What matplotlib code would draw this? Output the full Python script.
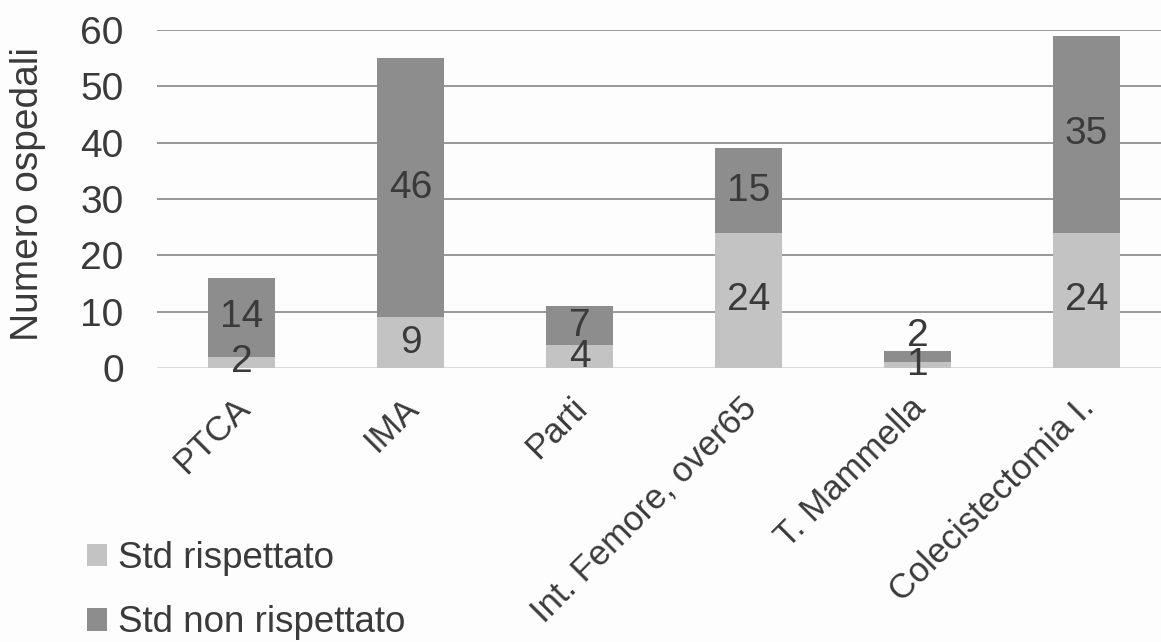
import matplotlib
matplotlib.use("Agg")
import matplotlib.pyplot as plt
import numpy as np

# Categories and counts of hospitals per procedure
categories = ["PTCA", "IMA", "Parti", "Int. Femore, over65", "T. Mammella", "Colecistectomia I."]
std_rispettato = [2, 9, 4, 24, 1, 24]
std_non_rispettato = [14, 46, 7, 15, 2, 35]
series_labels = ["Std rispettato", "Std non rispettato"]
y_ticks = [0, 10, 20, 30, 40, 50, 60]

light = "#c3c3c3"
dark = "#8d8d8d"
text_col = "#3a3a3a"
font = "Liberation Sans"

plt.rcParams["font.family"] = [font, "DejaVu Sans"]

W, H = 1161, 642
fig = plt.figure(figsize=(W / 100, H / 100), dpi=100)
fig.patch.set_facecolor("#fdfdfd")

ax_left, ax_right, ax_top, ax_bottom = 157, 1171, 30, 368
ax = fig.add_axes([ax_left / W, 1 - ax_bottom / H,
                   (ax_right - ax_left) / W, (ax_bottom - ax_top) / H])
ax.set_facecolor("none")

x = np.arange(len(categories))
width = 0.4
b1 = ax.bar(x, std_rispettato, width, color=light, label=series_labels[0], zorder=2)
b2 = ax.bar(x, std_non_rispettato, width, bottom=std_rispettato, color=dark,
            label=series_labels[1], zorder=2)

ax.set_xlim(-0.5, len(categories) - 0.5)
ax.set_ylim(0, 60)
ax.set_yticks(y_ticks)
ax.tick_params(axis="y", length=0, pad=24, labelsize=28, labelcolor=text_col)
ax.tick_params(axis="x", length=0)
ax.set_xticks(x)
ax.set_xticklabels([])
for s in ax.spines.values():
    s.set_visible(False)

ax.set_axisbelow(True)
ax.yaxis.grid(True, color="#7c7c7c", linewidth=1.1)
ax.get_ygridlines()[0].set_color("#d4d4d4")

# Rotated category labels
for xi, cat in zip(x, categories):
    ax.annotate(cat, xy=(xi, 0), xycoords="data", xytext=(2, -25),
                textcoords="offset points", rotation=45, rotation_mode="anchor",
                ha="right", va="center", fontsize=25, color=text_col)

# Value labels
for xi, a, b in zip(x, std_rispettato, std_non_rispettato):
    ax.text(xi, a / 2, str(a), ha="center", va="center", fontsize=28,
            color=text_col, zorder=3)
    if b >= 5:
        ax.text(xi, a + b / 2, str(b), ha="center", va="center", fontsize=28,
                color=text_col, zorder=3)
    else:
        ax.annotate(str(b), xy=(xi, a + b), xytext=(0, 4), textcoords="offset points",
                    ha="center", va="baseline", fontsize=28, color=text_col, zorder=3)

fig.text(28 / W, 1 - 194 / H, "Numero ospedali", rotation=90, ha="center",
         va="center", fontsize=28, color=text_col)

leg = fig.legend(handles=[b1, b2], labels=series_labels, loc="upper left",
                 bbox_to_anchor=(87 / W, 1 - 541 / H), frameon=False,
                 fontsize=26.5, handlelength=0.55, handleheight=0.55,
                 handletextpad=0.3, labelspacing=0.8, borderpad=0, borderaxespad=0)
for t in leg.get_texts():
    t.set_color(text_col)

fig.savefig("out.png", dpi=100, facecolor=fig.get_facecolor())
